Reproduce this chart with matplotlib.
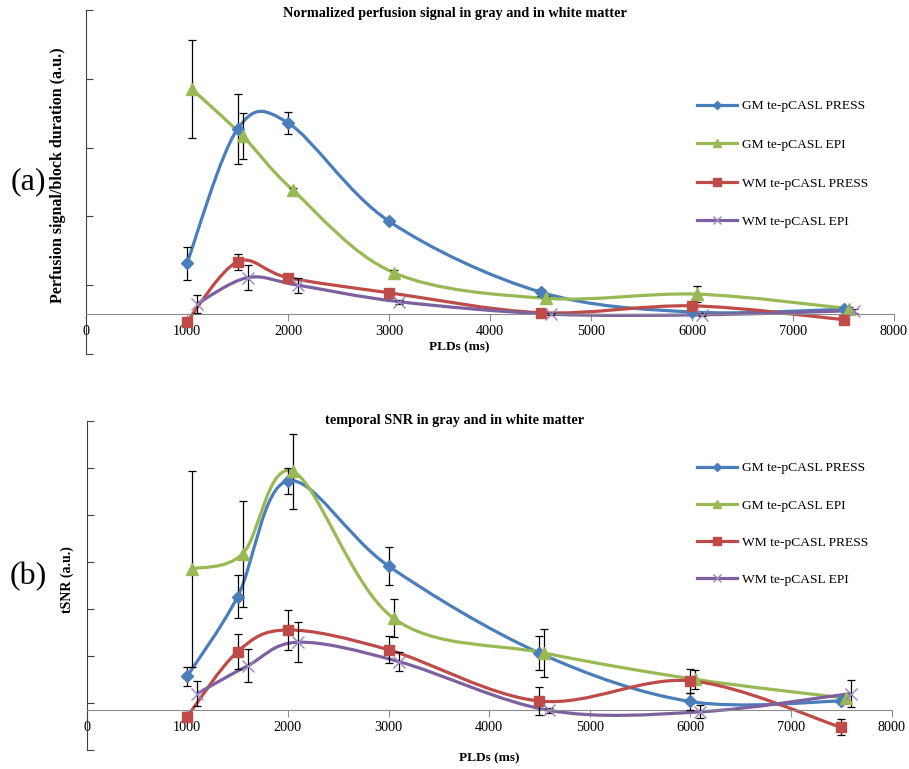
import numpy as np
import matplotlib
matplotlib.use("Agg")
import matplotlib.pyplot as plt
from matplotlib.path import Path
from matplotlib.patches import PathPatch
from matplotlib.lines import Line2D

plt.rcParams['font.family'] = ['Liberation Serif', 'DejaVu Serif']

W, H = 909, 769

pld = [1000, 1500, 2000, 3000, 4500, 6000, 7500]
# the original chart nudges each series sideways a bit so error bars don't overlap
offsets = [0, 50, 0, 100]

labels = ["GM te-pCASL PRESS", "GM te-pCASL EPI", "WM te-pCASL PRESS", "WM te-pCASL EPI"]
colors = ["#4A7EBB", "#98B954", "#BE4B48", "#7D60A0"]
markers = ["D", "^", "s", "x"]
msizes = [6, 8, 7.5, 8]

# (a) normalized perfusion signal (a.u.)
perf_gm_press = [0.74, 2.69, 2.78, 1.35, 0.32, 0.03, 0.07]
perf_gm_press_err = [0.24, 0.51, 0.16, 0.03, 0.05, 0.02, 0.03]
perf_gm_epi = [3.27, 2.59, 1.80, 0.60, 0.23, 0.29, 0.08]
perf_gm_epi_err = [0.71, 0.33, 0.04, 0.04, 0.03, 0.12, 0.03]
perf_wm_press = [-0.11, 0.76, 0.53, 0.31, 0.02, 0.12, -0.08]
perf_wm_press_err = [0.05, 0.12, 0.03, 0.02, 0.02, 0.04, 0.02]
perf_wm_epi = [0.15, 0.53, 0.42, 0.18, 0.00, -0.01, 0.05]
perf_wm_epi_err = [0.13, 0.18, 0.11, 0.03, 0.02, 0.02, 0.03]

# (b) temporal SNR (a.u.)
tsnr_gm_press = [0.72, 2.41, 4.87, 3.06, 1.21, 0.18, 0.19]
tsnr_gm_press_err = [0.20, 0.46, 0.28, 0.40, 0.37, 0.19, 0.05]
tsnr_gm_epi = [3.00, 3.32, 5.07, 1.95, 1.21, 0.65, 0.25]
tsnr_gm_epi_err = [2.08, 1.13, 0.80, 0.40, 0.51, 0.21, 0.05]
tsnr_wm_press = [-0.14, 1.24, 1.70, 1.28, 0.19, 0.62, -0.37]
tsnr_wm_press_err = [0.10, 0.37, 0.42, 0.29, 0.29, 0.25, 0.17]
tsnr_wm_epi = [0.35, 0.94, 1.44, 1.03, -0.01, -0.04, 0.35]
tsnr_wm_epi_err = [0.26, 0.35, 0.43, 0.21, 0.05, 0.14, 0.29]


def smooth_path(x, y, t=1.0 / 6):
    # excel-style smoothed line: catmull-rom turned into cubic bezier segments
    pts = np.column_stack([x, y]).astype(float)
    n = len(pts)
    verts = [pts[0]]
    codes = [Path.MOVETO]
    for i in range(n - 1):
        p0 = pts[max(i - 1, 0)]
        p1, p2 = pts[i], pts[i + 1]
        p3 = pts[min(i + 2, n - 1)]
        verts += [p1 + (p2 - p0) * t, p2 - (p3 - p1) * t, p2]
        codes += [Path.CURVE4] * 3
    return Path(verts, codes)


def px_axes(left, top, right, bottom):
    return fig.add_axes([left / W, 1 - bottom / H, (right - left) / W, (bottom - top) / H])


def draw_panel(ax, series, errs, ylo, nticks):
    ax.set_xlim(0, 8000)
    ax.set_ylim(ylo, ylo + nticks - 1)
    ax.set_xticks(range(0, 8001, 1000))
    ax.set_yticks(ylo + np.arange(nticks))
    ax.set_yticklabels([])
    for s in ["top", "right"]:
        ax.spines[s].set_visible(False)
    ax.spines["bottom"].set_position(("data", 0))
    ax.spines["bottom"].set_color("#8C8C8C")
    ax.spines["left"].set_color("#404040")
    ax.tick_params(axis="y", direction="in", length=5, color="#404040")
    ax.tick_params(axis="x", direction="out", length=5, color="#8C8C8C",
                   labelsize=10.3, pad=3)
    ax.patch.set_visible(False)

    for k, (vals, err) in enumerate(zip(series, errs)):
        x = np.array(pld) + offsets[k]
        ax.add_patch(PathPatch(smooth_path(x, vals), fill=False,
                               ec=colors[k], lw=2.3, zorder=2, clip_on=False))
        ax.errorbar(x, vals, yerr=err, fmt="none", ecolor="black",
                    elinewidth=0.9, capsize=3, capthick=0.9, zorder=3)
        if markers[k] == "x":
            ax.plot(x, vals, ls="none", marker="x", ms=msizes[k], mew=1.0,
                    color="#9A86C0", zorder=4, clip_on=False)
        else:
            ax.plot(x, vals, ls="none", marker=markers[k], ms=msizes[k],
                    color=colors[k], mec=colors[k], zorder=4, clip_on=False)


def add_legend(ax, x, y, spacing):
    handles = []
    for k in range(4):
        mc = "#9A86C0" if markers[k] == "x" else colors[k]
        handles.append(Line2D([], [], color=colors[k], lw=2.3, marker=markers[k],
                              ms=msizes[k] * 0.75, mfc=mc, mec=mc))
    ax.legend(handles, labels, loc="upper left", frameon=False,
              bbox_to_anchor=(x / W, 1 - y / H), bbox_transform=fig.transFigure,
              fontsize=9.7, handlelength=3.0, handletextpad=0.35,
              labelspacing=spacing, borderpad=0, borderaxespad=0)


fig = plt.figure(figsize=(W / 100, H / 100), dpi=100)

ax1 = px_axes(86, 10, 894, 354)
draw_panel(ax1, [perf_gm_press, perf_gm_epi, perf_wm_press, perf_wm_epi],
           [perf_gm_press_err, perf_gm_epi_err, perf_wm_press_err, perf_wm_epi_err],
           -0.58, 6)
add_legend(ax1, 697, 100, 1.94)

ax2 = px_axes(86.7, 420.7, 891.5, 750)
draw_panel(ax2, [tsnr_gm_press, tsnr_gm_epi, tsnr_wm_press, tsnr_wm_epi],
           [tsnr_gm_press_err, tsnr_gm_epi_err, tsnr_wm_press_err, tsnr_wm_epi_err],
           -0.851, 8)
add_legend(ax2, 697, 462, 1.83)

fig.text(455 / W, 1 - 13 / H, "Normalized perfusion signal in gray and in white matter",
         ha="center", va="center", fontsize=10.3, fontweight="bold")
fig.text(455 / W, 1 - 420 / H, "temporal SNR in gray and in white matter",
         ha="center", va="center", fontsize=10.3, fontweight="bold")
fig.text(459 / W, 1 - 347 / H, "PLDs (ms)", ha="center", va="center",
         fontsize=9.5, fontweight="bold")
fig.text(489 / W, 1 - 758 / H, "PLDs (ms)", ha="center", va="center",
         fontsize=9.5, fontweight="bold")
fig.text(58 / W, 1 - 175 / H, "Perfusion signal/block duration (a.u.)", rotation=90,
         ha="center", va="center", fontsize=11.5, fontweight="bold")
fig.text(67 / W, 1 - 580 / H, "tSNR (a.u.)", rotation=90,
         ha="center", va="center", fontsize=10, fontweight="bold")
fig.text(28 / W, 1 - 182 / H, "(a)", ha="center", va="center", fontsize=23)
fig.text(28 / W, 1 - 577 / H, "(b)", ha="center", va="center", fontsize=23)

fig.savefig("out.png", dpi=100)
